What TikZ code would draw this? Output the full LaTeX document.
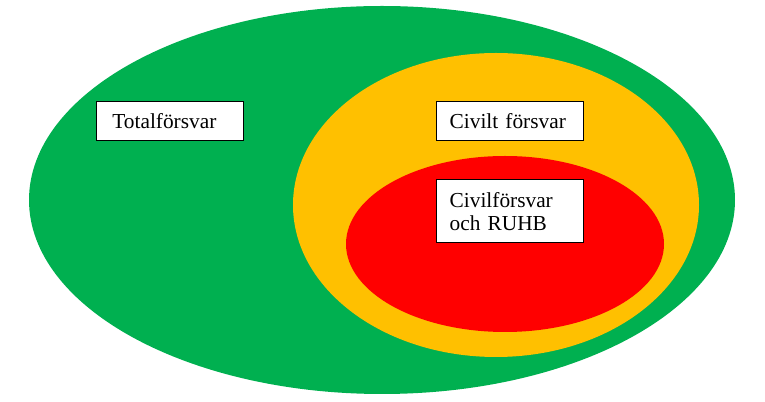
\documentclass[tikz,border=0pt]{standalone}
\usepackage{fontspec}
\setmainfont{Liberation Serif}
\usepackage{tikz}
\usetikzlibrary{calc,positioning}

\definecolor{totgreen}{HTML}{00B050}
\definecolor{civyellow}{HTML}{FFC000}
\definecolor{ruhbred}{HTML}{FF0000}

\begin{document}
\begin{tikzpicture}[x=0.75pt,y=-0.75pt]
    \tikzset{LabelBox/.style = {draw=black, line width=0.6pt,
        fill = white,
        text width = 90pt,
        inner xsep = 10pt,
        align = left,
        anchor = north west,
        font = \fontsize{16pt}{17.25pt}\selectfont}}
    \useasboundingbox (0,0) rectangle (765,402);
    % nested areas
    \fill[totgreen]  (382,200) ellipse [x radius=264.75pt, y radius=145.5pt];
    \fill[civyellow] (496,205) ellipse [x radius=152.25pt, y radius=114pt];
    \fill[ruhbred]   (505,244) ellipse [x radius=119.25pt, y radius=66pt];
    % labels
    \node[LabelBox, minimum height=29.25pt] (total) at (96,101) {\hspace*{2pt}Totalförsvar};
    \node[LabelBox, minimum height=29.25pt] (civilt) at (436,101) {Civilt försvar};
    \node[LabelBox, minimum height=47.6pt] (ruhb) at (436,179) {Civilförsvar\\och RUHB};
\end{tikzpicture}
\end{document}
